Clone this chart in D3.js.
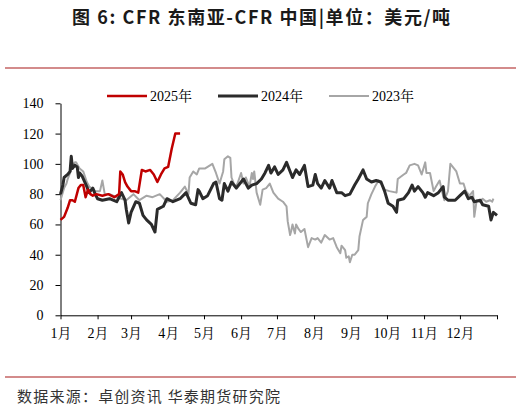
<!DOCTYPE html>
<html>
<head>
<meta charset="utf-8">
<script src="https://cdn.jsdelivr.net/npm/d3@7"></script>
<style>
  body { margin: 0; background: #fff; }
  svg { display: block; }
</style>
</head>
<body>
<script>
// Series values: [day of year, value]
var series2025 = [
  [0, 63], [3, 65], [6, 71], [8, 76], [10, 76], [12, 75], [15, 84], [17, 86], [19, 86],
  [21, 78], [23, 83], [25, 80], [27, 79], [30, 80], [35, 79], [40, 80], [45, 78], [49, 80],
  [50, 95], [52, 93], [54, 88], [56, 85], [59, 82], [62, 82], [65, 81], [68, 96], [71, 95],
  [75, 96], [78, 93], [81, 88], [84, 93], [87, 97], [90, 98], [93, 110], [96, 120], [100, 120]
];

var series2024 = [
  [0, 80], [2, 86], [3, 91], [6, 93], [8, 95], [9, 105], [10, 97], [12, 99], [14, 98],
  [15, 91], [16, 94], [18, 92], [22, 85], [24, 81], [27, 84], [29, 80], [31, 77], [35, 76],
  [41, 77], [47, 75], [51, 81], [54, 76], [55, 70], [57, 61], [59, 68], [63, 75], [66, 74],
  [69, 66], [72, 63], [76, 60], [79, 55], [81, 70], [86, 72], [89, 77], [94, 75], [100, 77],
  [105, 81], [109, 74], [113, 73], [115, 83], [116, 82], [119, 77], [123, 79], [128, 87],
  [130, 88], [133, 77], [135, 76], [137, 87], [140, 82], [143, 88], [147, 84], [153, 90],
  [157, 84], [160, 86], [164, 87], [168, 90], [171, 94], [174, 99], [176, 94], [179, 98],
  [182, 93], [186, 96], [189, 101], [192, 95], [194, 91], [197, 96], [200, 93], [204, 99],
  [207, 85], [211, 86], [213, 93], [215, 87], [218, 84], [221, 89], [225, 84], [227, 89],
  [231, 81], [235, 81], [238, 79], [242, 80], [246, 86], [249, 90], [253, 96], [256, 90],
  [260, 88], [264, 89], [268, 88], [271, 82], [274, 74], [278, 72], [281, 68], [282, 76],
  [287, 77], [291, 81], [294, 86], [296, 82], [299, 85], [303, 81], [305, 78], [307, 81],
  [312, 79], [316, 81], [320, 85], [321, 78], [324, 76], [330, 76], [334, 79], [338, 82],
  [341, 77], [344, 78], [346, 75], [351, 76], [353, 73], [358, 72], [360, 63], [362, 68],
  [365, 66]
];

var series2023 = [
  [0, 76], [3, 84], [5, 87], [6, 90], [8, 94], [10, 99], [12, 101], [13, 101], [16, 97],
  [19, 95], [22, 88], [24, 85], [26, 84], [29, 82], [33, 82], [35, 89], [37, 80], [41, 80],
  [47, 78], [51, 77], [55, 76], [61, 80], [66, 76], [72, 79], [77, 78], [83, 80], [89, 75],
  [94, 76], [100, 81], [104, 85], [107, 80], [108, 91], [111, 95], [114, 93], [116, 97],
  [121, 97], [125, 99], [127, 100], [130, 94], [133, 87], [136, 95], [137, 103], [140, 105],
  [142, 104], [143, 91], [146, 85], [148, 87], [151, 94], [153, 87], [155, 91], [158, 85],
  [160, 94], [161, 90], [162, 95], [164, 81], [167, 73], [169, 83], [172, 84], [175, 87],
  [178, 81], [182, 77], [186, 75], [189, 72], [190, 62], [192, 53], [193, 56], [194, 60],
  [196, 54], [197, 60], [199, 57], [201, 55], [204, 57], [207, 45], [210, 51], [213, 50],
  [215, 51], [218, 48], [221, 53], [225, 50], [228, 51], [231, 45], [234, 41], [235, 46],
  [238, 43], [239, 38], [241, 39], [242, 35], [244, 40], [246, 40], [249, 43], [250, 52],
  [253, 63], [256, 65], [257, 74], [260, 80], [263, 85], [266, 89], [268, 87], [271, 83],
  [275, 82], [281, 81], [282, 90], [287, 93], [289, 94], [292, 99], [296, 100], [299, 99],
  [302, 93], [305, 101], [306, 94], [309, 94], [312, 82], [314, 85], [317, 89], [319, 82],
  [321, 76], [324, 82], [326, 100], [328, 98], [331, 95], [334, 87], [337, 87], [339, 82],
  [342, 79], [345, 82], [346, 65], [348, 76], [351, 75], [353, 77], [356, 75], [359, 76],
  [361, 75], [362, 77]
];

var monthStarts = [0, 31, 59, 90, 120, 151, 181, 212, 243, 273, 304, 334];
var monthLabels = ["1月", "2月", "3月", "4月", "5月", "6月", "7月", "8月", "9月", "10月", "11月", "12月"];
var yTicks = [0, 20, 40, 60, 80, 100, 120, 140];
var legendNames = ["2025年", "2024年", "2023年"];

var serifFont = "'Liberation Serif', 'Noto Serif CJK SC', serif";

var W = 521, H = 407;
var svg = d3.select("body").append("svg")
    .attr("width", W)
    .attr("height", H);

// Title (stretched to the reference width)
svg.append("text")
    .attr("x", 72)
    .attr("y", 24)
    .attr("textLength", 378)
    .attr("lengthAdjust", "spacing")
    .style("font-family", "'Noto Sans CJK SC', sans-serif")
    .style("font-weight", "bold")
    .style("font-size", "18px")
    .attr("fill", "#1a1a1a")
    .text("图 6: CFR 东南亚-CFR 中国|单位：美元/吨");

// Red rules top and bottom
svg.append("line")
    .attr("x1", 5).attr("x2", 516)
    .attr("y1", 68).attr("y2", 68)
    .attr("stroke", "#c46464").attr("stroke-width", 1.5);
svg.append("line")
    .attr("x1", 5).attr("x2", 516)
    .attr("y1", 377).attr("y2", 377)
    .attr("stroke", "#c46464").attr("stroke-width", 1.5);

// Source
svg.append("text")
    .attr("x", 17)
    .attr("y", 402)
    .attr("textLength", 263)
    .attr("lengthAdjust", "spacing")
    .style("font-family", "'Noto Sans CJK SC', sans-serif")
    .style("font-size", "15px")
    .attr("fill", "#333")
    .text("数据来源：卓创资讯 华泰期货研究院");

// Scales
var x = d3.scaleLinear().domain([0, 365]).range([60.5, 497]);
var y = d3.scaleLinear().domain([0, 140]).range([315.3, 103.3]);

// Axes
var xAxis = svg.append("g")
    .attr("transform", "translate(0," + y(0) + ")")
    .call(d3.axisBottom(x)
        .tickValues(monthStarts.concat([365]))
        .tickSize(4)
        .tickSizeOuter(0)
        .tickFormat(function(d, i) { return monthLabels[i] || ""; }));
xAxis.select(".domain").attr("stroke", "#000");
xAxis.selectAll(".tick line").attr("stroke", "#000");
xAxis.selectAll(".tick text")
    .style("font-family", serifFont)
    .style("font-size", "14px")
    .attr("fill", "#000")
    .attr("y", 13)
    .attr("dy", "0.71em");

var yAxis = svg.append("g")
    .attr("transform", "translate(60.5,0)")
    .call(d3.axisLeft(y)
        .tickValues(yTicks)
        .tickSize(5)
        .tickSizeOuter(0));
yAxis.select(".domain").attr("stroke", "#000");
yAxis.selectAll(".tick line").attr("stroke", "#000");
yAxis.selectAll(".tick text")
    .style("font-family", serifFont)
    .style("font-size", "14px")
    .attr("fill", "#000")
    .attr("x", -17);

// Lines
var line = d3.line()
    .x(d => x(d[0]))
    .y(d => y(d[1]));

var lines = [
  { data: series2023, color: "#a6a6a6", width: 2 },
  { data: series2024, color: "#2b2b2b", width: 3 },
  { data: series2025, color: "#c00000", width: 2.5 }
];

svg.append("g").selectAll("path")
    .data(lines)
    .enter().append("path")
    .attr("d", d => line(d.data))
    .attr("fill", "none")
    .attr("stroke", d => d.color)
    .attr("stroke-width", d => d.width)
    .attr("stroke-linejoin", "round");

// Legend
var legendItems = [
  { name: legendNames[0], color: "#c00000", width: 2.5, x: 107 },
  { name: legendNames[1], color: "#2b2b2b", width: 3, x: 218 },
  { name: legendNames[2], color: "#a6a6a6", width: 2, x: 329 }
];

var legend = svg.append("g").attr("class", "legend");
var item = legend.selectAll("g")
    .data(legendItems)
    .enter().append("g")
    .attr("transform", d => "translate(" + d.x + ",96)");
item.append("line")
    .attr("x1", 0).attr("x2", 40)
    .attr("stroke", d => d.color)
    .attr("stroke-width", d => d.width);
item.append("text")
    .attr("x", 43)
    .attr("dy", "0.35em")
    .style("font-family", serifFont)
    .style("font-size", "14px")
    .attr("fill", "#000")
    .text(d => d.name);
</script>
</body>
</html>
